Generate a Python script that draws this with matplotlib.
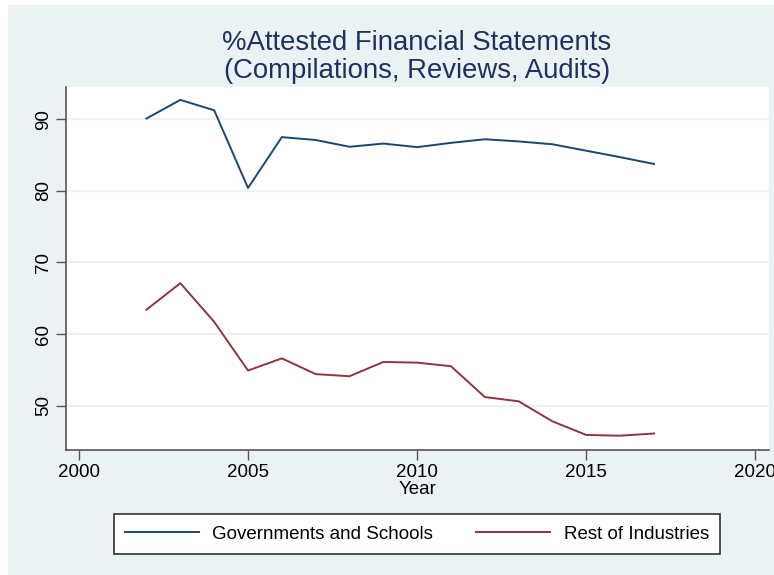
import matplotlib
matplotlib.use("Agg")
import matplotlib.pyplot as plt
from matplotlib.patches import Rectangle

plt.rcParams["font.family"] = ["Liberation Sans", "DejaVu Sans"]

years = list(range(2002, 2018))
gov_schools = [90.1, 92.7, 91.25, 80.4, 87.5, 87.1, 86.15, 86.6, 86.1, 86.7,
               87.2, 86.9, 86.5, 85.6, 84.7, 83.75]
rest_ind = [63.4, 67.1, 61.7, 54.9, 56.6, 54.4, 54.1, 56.1, 56.0, 55.5,
            51.2, 50.6, 47.8, 45.9, 45.8, 46.1]
xticks = [2000, 2005, 2010, 2015, 2020]
yticks = [50, 60, 70, 80, 90]

W, H = 774, 575
BG = "#EAF2F3"
NAVY = "#1A476F"
MAROON = "#90353B"
TITLE = "#1E3160"

fig = plt.figure(figsize=(W / 100, H / 100), dpi=100)
fig.patch.set_facecolor("white")
fig.patches.append(Rectangle((8 / W, 0), 1, 1 - 5 / H, transform=fig.transFigure,
                             facecolor=BG, edgecolor="none", zorder=-10))

# plot region in pixels: left 66, right 769, top 87, bottom 450
ax = fig.add_axes([66 / W, 1 - 450 / H, (769 - 66) / W, (450 - 87) / H])
ax.set_facecolor("white")

l1, = ax.plot(years, gov_schools, color=NAVY, lw=1.4)
l2, = ax.plot(years, rest_ind, color=MAROON, lw=1.4)

ax.set_xlim(1999.62, 2020.4)
ax.set_ylim(43.8, 94.5)
ax.set_xticks(xticks)
ax.set_yticks(yticks)
ax.grid(axis="y", color=BG, lw=1.5)
ax.set_axisbelow(True)
for s in ["top", "right"]:
    ax.spines[s].set_visible(False)
for s in ["left", "bottom"]:
    ax.spines[s].set_color("#555555")
    ax.spines[s].set_linewidth(1.2)
ax.tick_params(length=7, width=1, color="#555555", labelsize=13.5, pad=3)
for lab in ax.get_yticklabels():
    lab.set_rotation(90)
    lab.set_va("center")

ax.set_xlabel("Year", fontsize=13.5, labelpad=0)

fig.text(417 / W, 1 - 43 / H, "%Attested Financial Statements", ha="center",
         va="center", fontsize=19.8, color=TITLE)
fig.text(417 / W, 1 - 71 / H, "(Compilations, Reviews, Audits)", ha="center",
         va="center", fontsize=19.8, color=TITLE)

leg = fig.legend([l1, l2], ["Governments and Schools", "Rest of Industries"],
                 loc="center", bbox_to_anchor=(417 / W, 1 - 534 / H), ncol=2,
                 fontsize=13.5, frameon=True, fancybox=False, handlelength=3.95,
                 handletextpad=0.7, columnspacing=2.3, borderpad=0.55,
                 borderaxespad=0)
frame = leg.get_frame()
frame.set_edgecolor("#333333")
frame.set_facecolor("white")
frame.set_alpha(1)
frame.set_linewidth(1.2)
leg._legend_box.pad = 8  # a bit more side padding, like the reference box

fig.savefig("out.png", dpi=100, facecolor=fig.get_facecolor())
